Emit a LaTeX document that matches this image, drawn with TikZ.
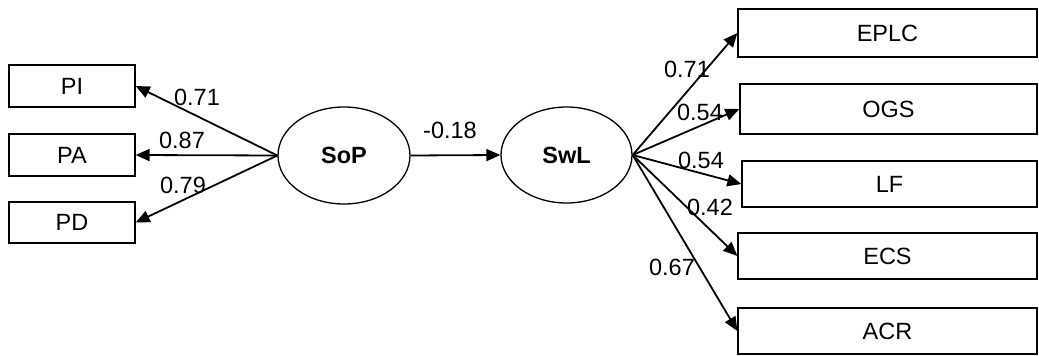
\documentclass[tikz,border=0pt]{standalone}
\usepackage{fontspec}
\setmainfont{Liberation Sans}
\usetikzlibrary{arrows.meta,shapes.geometric}
\begin{document}
\begin{tikzpicture}[x=1pt,y=-1pt,
  box/.style={draw, line width=1.3pt, inner sep=0pt, font=\fontsize{23.5}{28}\selectfont},
  latent/.style={draw, ellipse, line width=1.3pt, inner sep=0pt, font=\bfseries\fontsize{23.5}{28}\selectfont},
  path/.style={line width=1.8pt, -{Triangle[length=14pt,width=12pt]}},
  coef/.style={inner sep=0pt, font=\fontsize{23.5}{28}\selectfont}]
\useasboundingbox (0,0) rectangle (1039,356);
% left indicators
\node[box, minimum width=126pt, minimum height=42pt] (PI) at (72,86) {PI};
\node[box, minimum width=126pt, minimum height=42pt] (PA) at (72,155) {PA};
\node[box, minimum width=126pt, minimum height=41pt] (PD) at (72,222.5) {PD};
% latents
\node[latent, minimum width=132pt, minimum height=97pt] (SoP) at (344,155.5) {SoP};
\node[latent, minimum width=131pt, minimum height=96pt] (SwL) at (566.5,155) {SwL};
% right indicators
\node[box, minimum width=299pt, minimum height=48pt] (EPLC) at (887.5,33) {EPLC};
\node[box, minimum width=297pt, minimum height=50pt] (OGS) at (888.5,109) {OGS};
\node[box, minimum width=295pt, minimum height=46pt] (LF) at (889.5,184) {LF};
\node[box, minimum width=299pt, minimum height=46pt] (ECS) at (887.5,256) {ECS};
\node[box, minimum width=299pt, minimum height=46pt] (ACR) at (887.5,331) {ACR};
% paths
\draw[path] (SoP.west) -- (PI.east);
\draw[path] (SoP.west) -- (PA.east);
\draw[path] (SoP.west) -- (PD.east);
\draw[path] (SoP.east) -- (SwL.west);
\draw[path] (SwL.east) -- (EPLC.west);
\draw[path] (SwL.east) -- (OGS.west);
\draw[path] (SwL.east) -- (LF.west);
\draw[path] (SwL.east) -- (ECS.west);
\draw[path] (SwL.east) -- (ACR.west);
% coefficients
\node[coef] (c1) at (197,97) {0.71};
\node[coef] (c2) at (182,140) {0.87};
\node[coef] (c3) at (183,185) {0.79};
\node[coef] (c4) at (450,130) {-0.18};
\node[coef] (c5) at (687,69) {0.71};
\node[coef] (c6) at (700,112) {0.54};
\node[coef] (c7) at (701,160) {0.54};
\node[coef] (c8) at (710,207) {0.42};
\node[coef] (c9) at (672,267) {0.67};
\end{tikzpicture}
\end{document}
